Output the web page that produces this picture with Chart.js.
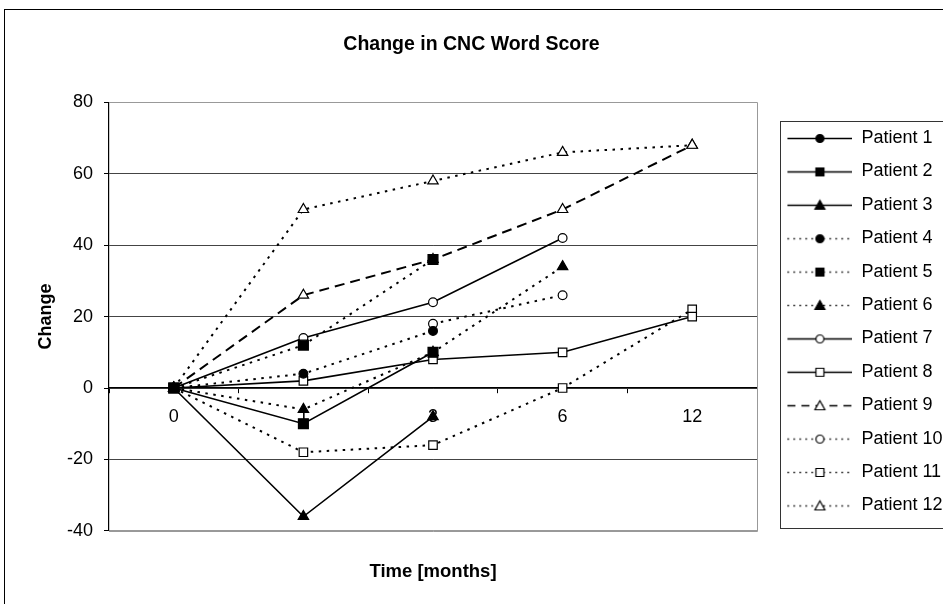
<!DOCTYPE html>
<html>
<head>
<meta charset="utf-8">
<title>Change in CNC Word Score</title>
<script src="https://cdn.jsdelivr.net/npm/chart.js@4.4.1/dist/chart.umd.min.js"></script>
<style>
  html, body { margin: 0; padding: 0; background: #fff; }
  #wrap { width: 943px; height: 604px; }
</style>
</head>
<body>
<div id="wrap"><canvas id="cncChart" width="943" height="604"></canvas></div>
<script>
// data (change in CNC word score)
const months = ['0', '1', '3', '6', '12'];
const yTicks = [-40, -20, 0, 20, 40, 60, 80];
const patientNames = ['Patient 1', 'Patient 2', 'Patient 3', 'Patient 4', 'Patient 5', 'Patient 6',
                      'Patient 7', 'Patient 8', 'Patient 9', 'Patient 10', 'Patient 11', 'Patient 12'];

const patient1  = [0, null, null, null, null];
const patient2  = [0, -10, 10, null, null];
const patient3  = [0, -36, -8, null, null];
const patient4  = [0, 4, 16, null, null];
const patient5  = [0, 12, 36, null, null];
const patient6  = [0, -6, 10, 34, null];
const patient7  = [0, 14, 24, 42, null];
const patient8  = [0, 2, 8, 10, 20];
const patient9  = [0, 26, 36, 50, 68];
const patient10 = [0, null, 18, 26, null];
const patient11 = [0, -18, -16, 0, 22];
const patient12 = [0, 50, 58, 66, 68];

const allPatients = [patient1, patient2, patient3, patient4, patient5, patient6,
                     patient7, patient8, patient9, patient10, patient11, patient12];

// marker / line look of each series (same order as above)
const seriesLook = [
  { shape: 'circle', filled: true, line: 'solid' },
  { shape: 'rect', filled: true, line: 'solid' },
  { shape: 'triangle', filled: true, line: 'solid' },
  { shape: 'circle', filled: true, line: 'dotted' },
  { shape: 'rect', filled: true, line: 'dotted' },
  { shape: 'triangle', filled: true, line: 'dotted' },
  { shape: 'circle', filled: false, line: 'solid' },
  { shape: 'rect', filled: false, line: 'solid' },
  { shape: 'triangle', filled: false, line: 'dashed' },
  { shape: 'circle', filled: false, line: 'dotted' },
  { shape: 'rect', filled: false, line: 'dotted' },
  { shape: 'triangle', filled: false, line: 'dotted' }
];

const FONT = "'Liberation Sans', Arial, sans-serif";
Chart.defaults.font.family = FONT;
Chart.defaults.font.size = 18;
Chart.defaults.color = '#000';

function dashFor(line) {
  if (line === 'dotted') return [2.5, 5.5];
  if (line === 'dashed') return [10, 6];
  return [];
}

function radiusFor(look) {
  if (look.shape === 'rect') return look.filled ? 7 : 6;
  if (look.shape === 'triangle') return 6;
  return 4.4;
}

// little "line + marker" picture used as the legend symbol
function legendSample(look) {
  const c = document.createElement('canvas');
  c.width = 80;
  c.height = 18;
  const g = c.getContext('2d');
  const cy = 9.5;
  g.strokeStyle = '#000';
  g.lineWidth = look.line === 'solid' ? 1.6 : 1.4;
  g.setLineDash(look.line === 'dotted' ? [1.5, 4.5] : look.line === 'dashed' ? [8, 6] : []);
  g.beginPath();
  g.moveTo(15, cy);
  g.lineTo(80, cy);
  g.stroke();
  g.setLineDash([]);

  const mx = 47.5;
  g.fillStyle = look.filled ? '#000' : '#fff';
  g.lineWidth = 1.2;
  g.beginPath();
  if (look.shape === 'circle') {
    g.arc(mx, cy, 4, 0, Math.PI * 2);
  } else if (look.shape === 'rect') {
    g.rect(mx - 4, cy - 4, 8, 8);
  } else {
    g.moveTo(mx, cy - 5);
    g.lineTo(mx + 5, cy + 4);
    g.lineTo(mx - 5, cy + 4);
    g.closePath();
  }
  g.fill();
  g.stroke();
  return c;
}

const legendSymbols = seriesLook.map(legendSample);

const datasets = allPatients.map((vals, i) => {
  const look = seriesLook[i];
  return {
    label: patientNames[i],
    data: vals,
    borderColor: '#000',
    borderWidth: look.line === 'solid' ? 1.6 : 2,
    borderDash: dashFor(look.line),
    borderCapStyle: 'butt',
    pointStyle: look.shape,
    pointRadius: radiusFor(look),
    pointHoverRadius: radiusFor(look),
    pointBackgroundColor: look.filled ? '#000' : '#fff',
    pointBorderColor: '#000',
    pointBorderWidth: 1.2,
    tension: 0,
    spanGaps: false,
    fill: false,
    xAxisID: 'x',
    yAxisID: 'y'
  };
});

// outer frame, plot frame and legend box
const framePlugin = {
  id: 'framePlugin',
  beforeDatasetsDraw(chart) {
    const { ctx, chartArea } = chart;
    ctx.save();
    ctx.strokeStyle = '#999';
    ctx.lineWidth = 1;
    ctx.beginPath();
    ctx.moveTo(chartArea.left, Math.round(chartArea.top) + 0.5);
    ctx.lineTo(Math.round(chartArea.right) + 0.5, Math.round(chartArea.top) + 0.5);
    ctx.lineTo(Math.round(chartArea.right) + 0.5, Math.round(chartArea.bottom) + 0.5);
    ctx.lineTo(chartArea.left, Math.round(chartArea.bottom) + 0.5);
    ctx.stroke();
    ctx.restore();
  },
  afterDraw(chart) {
    const { ctx } = chart;
    ctx.save();
    ctx.strokeStyle = '#000';
    ctx.lineWidth = 1;
    ctx.strokeRect(4.5, 9.5, 960, 620);

    const lg = chart.legend;
    const hb = lg.legendHitBoxes;
    if (hb && hb.length) {
      const half = hb[0].height / 2;
      const top = Math.round(hb[0].top + half - 17.5) + 0.5;
      const bottom = Math.round(hb[hb.length - 1].top + half + 22.5) + 0.5;
      const left = Math.round(chart.chartArea.right + 23) + 0.5;
      ctx.strokeStyle = '#333';
      ctx.strokeRect(left, top, 960 - left, bottom - top);
    }
    ctx.restore();
  }
};

const config = {
  type: 'line',
  data: { labels: months, datasets: datasets },
  options: {
    responsive: false,
    animation: false,
    devicePixelRatio: 1,
    layout: { padding: { left: 0, right: 0, top: 0, bottom: 0 } },
    scales: {
      x: {
        type: 'category',
        position: { y: 0 },
        offset: true,
        grid: { drawOnChartArea: false, drawTicks: true, tickLength: 5, color: '#000', offset: true },
        border: { color: '#000', width: 1.2 },
        ticks: { padding: 13, maxRotation: 0, autoSkip: false, color: '#000' }
      },
      x2: {
        type: 'category',
        axis: 'x',
        position: 'bottom',
        offset: true,
        grid: { display: false, drawTicks: false },
        border: { display: false },
        ticks: { display: false },
        title: {
          display: true,
          text: 'Time [months]',
          font: { size: 18.5, weight: 'bold' },
          padding: { top: 30, bottom: 21 }
        }
      },
      y: {
        type: 'linear',
        position: 'left',
        min: yTicks[0],
        max: yTicks[yTicks.length - 1],
        afterBuildTicks: (scale) => { scale.ticks = yTicks.map(v => ({ value: v })); },
        afterFit: (scale) => { scale.width = 109; },
        grid: {
          color: (c) => (c.tick && (c.tick.value === 80 || c.tick.value === -40)) ? '#9a9a9a' : '#444',
          lineWidth: 1,
          tickLength: 5,
          tickColor: '#000'
        },
        border: { color: '#000', width: 1.2 },
        ticks: { padding: 11, color: '#000' },
        title: {
          display: true,
          text: 'Change',
          font: { size: 18, weight: 'bold' },
          padding: { top: 35, bottom: 0 }
        }
      }
    },
    plugins: {
      title: {
        display: true,
        text: 'Change in CNC Word Score',
        font: { size: 19.5, weight: 'bold' },
        color: '#000',
        padding: { top: 33, bottom: 46 }
      },
      legend: {
        display: true,
        position: 'right',
        align: 'center',
        fullSize: false,
        maxWidth: 186,
        title: { display: true, text: ' ', font: { size: 1 }, padding: { top: 9, bottom: 0 } },
        labels: {
          usePointStyle: true,
          pointStyleWidth: 80,
          padding: 15.4,
          font: { size: 18 },
          color: '#000',
          generateLabels: (chart) => chart.data.datasets.map((ds, i) => ({
            text: ds.label,
            pointStyle: legendSymbols[i],
            fillStyle: '#000',
            strokeStyle: '#000',
            lineWidth: 0,
            hidden: !chart.isDatasetVisible(i),
            datasetIndex: i
          }))
        }
      },
      tooltip: { enabled: false }
    }
  },
  plugins: [framePlugin]
};

new Chart(document.getElementById('cncChart').getContext('2d'), config);
</script>
</body>
</html>
